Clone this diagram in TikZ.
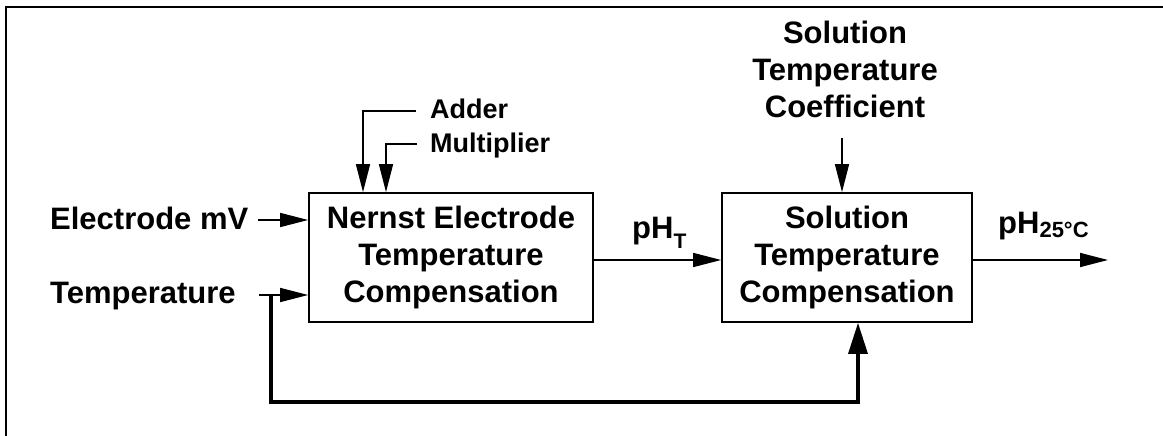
\documentclass[tikz,border=0pt]{standalone}
\usepackage{fontspec}
\setmainfont{Liberation Sans}
\usetikzlibrary{arrows.meta,calc}
\begin{document}
\begin{tikzpicture}[x=1pt,y=-1pt,
  bigtext/.style={font=\fontsize{31}{37}\selectfont\bfseries},
  smalltext/.style={font=\fontsize{27}{32}\selectfont\bfseries},
  blockbox/.style={draw,line width=1.7pt,inner sep=0pt,align=center,bigtext},
  label/.style={inner sep=0pt},
  arr/.style={line width=1.5pt,-{Triangle[length=28pt,width=14pt]}},
  thin/.style={line width=1.5pt},
  fbarr/.style={line width=3.3pt,-{Triangle[length=31pt,width=19pt]}}]
\useasboundingbox (0,0) rectangle (1163,436);
% frame
\draw[line width=2.7pt] (6,440) -- (6,7) -- (1170,7);
% blocks
\node[blockbox,minimum width=284pt,minimum height=129pt] (box1) at (451,257.5)
  {Nernst Electrode\\Temperature\\Compensation};
\node[blockbox,minimum width=250pt,minimum height=129pt] (box2) at (847,257.5)
  {Solution\\Temperature\\Compensation};
% labels
\node[label,bigtext,anchor=base west] (emv) at (50,229) {Electrode mV};
\node[label,bigtext,anchor=base west] (temp) at (50,303) {Temperature};
\node[label,smalltext,anchor=base west] (adder) at (430,118) {Adder};
\node[label,smalltext,anchor=base west] (mult) at (430,153) {Multiplier};
\node[label,bigtext,anchor=south,align=center] (coef) at (845,118.5)
  {Solution\\Temperature\\Coefficient};
\node[label,bigtext,anchor=base west] (pht) at (632,238)
  {pH\raisebox{-10pt}{\fontsize{21}{21}\selectfont T}};
\node[label,bigtext,anchor=base west] (ph25) at (998,233)
  {pH\raisebox{-4pt}{\fontsize{22}{22}\selectfont 25°C}};
% coordinates
\coordinate (ein) at (258,220);
\coordinate (tin) at (259,295);
\coordinate (tj) at (271,295);
\coordinate (aend) at (416,111);
\coordinate (ain) at (363,111);
\coordinate (mend) at (417,144);
\coordinate (min) at (386,144);
\coordinate (cin) at (842,138);
\coordinate (mid) at (650,260);
\coordinate (outend) at (1108,260);
\coordinate (fbx) at (858,402);
% connectors
\draw[arr] (ein) -- (ein -| box1.west);
\draw[arr] (tin) -- (tin -| box1.west);
\draw[arr] (aend) -- (ain) -- (ain |- box1.north);
\draw[arr] (mend) -- (min) -- (min |- box1.north);
\draw[arr] (cin) -- (cin |- box2.north);
\draw[arr] (mid -| box1.east) -- (mid -| box2.west);
\draw[arr] (outend -| box2.east) -- (outend);
\draw[fbarr] (tj) |- (fbx) -- (fbx |- box2.south);
\end{tikzpicture}
\end{document}
